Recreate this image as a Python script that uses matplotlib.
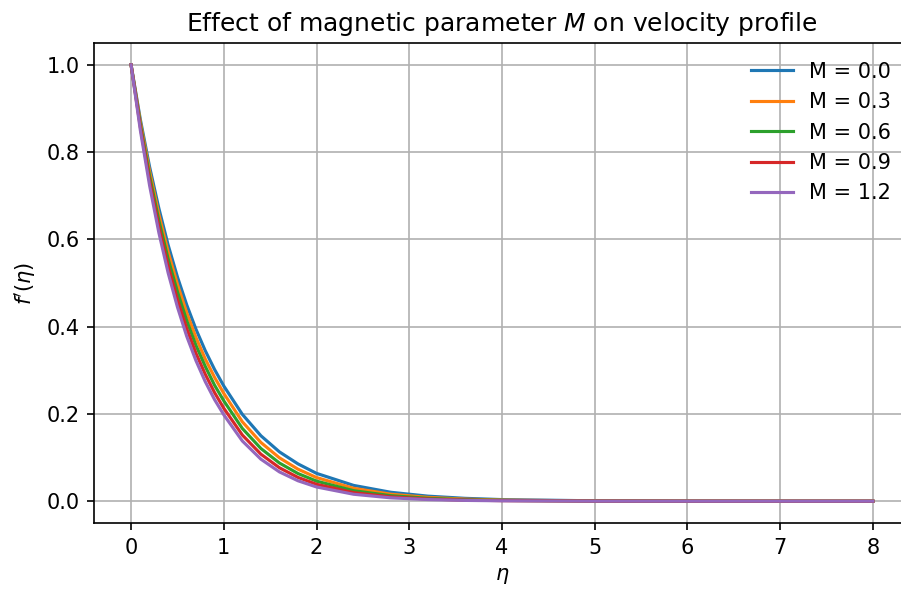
import numpy as np
import matplotlib
matplotlib.use("Agg")
import matplotlib.pyplot as plt

# eta sample points
eta = [0.0, 0.1, 0.2, 0.3, 0.4, 0.5, 0.6, 0.7, 0.8, 0.9, 1.0,
       1.2, 1.4, 1.6, 1.8, 2.0, 2.4, 2.8, 3.2, 3.6, 4.0,
       5.0, 6.0, 7.0, 8.0]

M_values = [0.0, 0.3, 0.6, 0.9, 1.2]

# f'(eta) readings for each M
fp_M00 = [1.0, 0.875, 0.766, 0.671, 0.587, 0.514, 0.450, 0.394, 0.345, 0.302, 0.264,
          0.199, 0.150, 0.113, 0.0855, 0.0638, 0.0362, 0.0205, 0.0116, 0.0066, 0.0037,
          0.0009, 0.0002, 0.00005, 0.0]
fp_M03 = [1.0, 0.869, 0.756, 0.657, 0.571, 0.497, 0.432, 0.375, 0.326, 0.284, 0.247,
          0.182, 0.1346, 0.0994, 0.0734, 0.0542, 0.0296, 0.0161, 0.0088, 0.0048, 0.0026,
          0.00057, 0.00013, 0.0, 0.0]
fp_M06 = [1.0, 0.863, 0.745, 0.643, 0.555, 0.480, 0.414, 0.357, 0.309, 0.266, 0.230,
          0.1667, 0.1208, 0.0875, 0.0634, 0.0460, 0.0241, 0.0127, 0.0067, 0.0035, 0.0018,
          0.00036, 0.00007, 0.0, 0.0]
fp_M09 = [1.0, 0.857, 0.734, 0.629, 0.539, 0.462, 0.396, 0.339, 0.291, 0.249, 0.213,
          0.1516, 0.1078, 0.0766, 0.0545, 0.0388, 0.0196, 0.0099, 0.0050, 0.0025, 0.0013,
          0.00024, 0.00004, 0.0, 0.0]
fp_M12 = [1.0, 0.850, 0.723, 0.615, 0.523, 0.445, 0.378, 0.322, 0.274, 0.233, 0.198,
          0.138, 0.0963, 0.0671, 0.0468, 0.0326, 0.0159, 0.0077, 0.0038, 0.0018, 0.0009,
          0.0001, 0.0, 0.0, 0.0]

profiles = [fp_M00, fp_M03, fp_M06, fp_M09, fp_M12]

fig = plt.figure(figsize=(901 / 150, 594 / 150), dpi=150)
# right spine falls just outside the picture in the reference
ax = fig.add_axes([0.1043, 0.1195, 0.9057, 0.8081])

for M, fp in zip(M_values, profiles):
    ax.plot(eta, fp, label=f'M = {M:.1f}')

ax.set_title(r'Effect of magnetic parameter $M$ on velocity profile')
ax.set_xlabel(r'$\eta$')
ax.set_ylabel(r"$f'(\eta)$")
ax.legend(loc='upper right', frameon=False)
ax.grid(True)
ax.spines['right'].set_visible(False)

fig.savefig('out.png', dpi=150)
